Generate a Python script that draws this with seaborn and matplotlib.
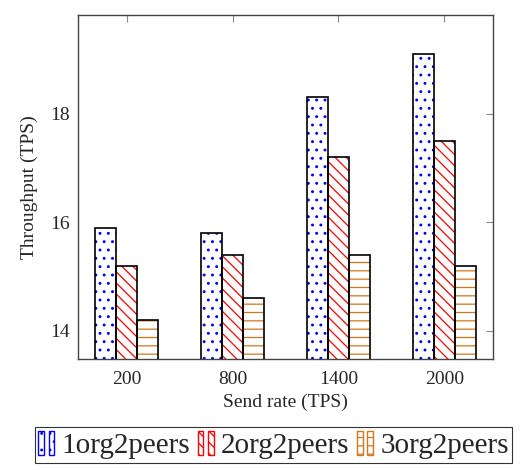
import matplotlib
matplotlib.use("Agg")
import matplotlib.pyplot as plt
import seaborn as sns
import pandas as pd
from matplotlib.patches import Rectangle, Patch
from matplotlib.legend_handler import HandlerTuple

categories = ["200", "800", "1400", "2000"]
series_names = ["1org2peers", "2org2peers", "3org2peers"]
s1 = [15.9, 15.8, 18.3, 19.1]
s2 = [15.2, 15.4, 17.2, 17.5]
s3 = [14.2, 14.6, 15.4, 15.2]
yticks = [14, 16, 18]

hatch_colors = ["blue", "red", "#d2771e"]
hatches = ["..", "\\\\\\", "--"]

sns.set_theme(style="white")
plt.rcParams["font.family"] = ["Liberation Serif", "DejaVu Serif"]
plt.rcParams["hatch.linewidth"] = 0.9

rows = []
for name, vals in zip(series_names, [s1, s2, s3]):
    for c, v in zip(categories, vals):
        rows.append({"rate": c, "series": name, "tps": v})
df = pd.DataFrame(rows)

fig = plt.figure(figsize=(5.29, 4.70), dpi=100)
ax = fig.add_axes([78 / 529, 1 - 359 / 470, (493 - 78) / 529, (359 - 15) / 470])

sns.barplot(data=df, x="rate", y="tps", hue="series", order=categories,
            hue_order=series_names, width=0.6, palette=["white"] * 3,
            edgecolor="black", linewidth=1.2, ax=ax, legend=False, zorder=3)

for i, cont in enumerate(ax.containers):
    for p in cont.patches:
        r = Rectangle(p.get_xy(), p.get_width(), p.get_height(), facecolor="none",
                      edgecolor=hatch_colors[i], hatch=hatches[i], linewidth=0, zorder=2.5)
        ax.add_patch(r)
        p.set_facecolor("none")

ax.set_ylim(13.48, 19.82)
ax.set_xlim(-0.46, 3.46)
ax.set_yticks(yticks)
ax.set_yticklabels([str(t) for t in yticks])
ax.set_xlabel("Send rate (TPS)", fontsize=14, labelpad=4)
ax.set_ylabel("Throughput (TPS)", fontsize=14, labelpad=9)
ax.tick_params(axis="both", labelsize=14, direction="in", length=5, color="#888888",
               top=True, right=True, width=0.8)
ax.tick_params(axis="x", pad=9)
ax.tick_params(axis="y", pad=6)
for s in ax.spines.values():
    s.set_color("#444444")
    s.set_linewidth(1.0)
    s.set_visible(True)

handles = [(Patch(facecolor="white", edgecolor=hatch_colors[i], hatch=hatches[i], linewidth=1.0),
            Patch(facecolor="white", edgecolor=hatch_colors[i], hatch=hatches[i], linewidth=1.0))
           for i in range(3)]
leg = fig.legend(handles, series_names, loc="center", bbox_to_anchor=(273.5 / 529, 1 - 445 / 470),
                 ncol=3, fontsize=21, frameon=True, fancybox=False, edgecolor="black",
                 handler_map={tuple: HandlerTuple(ndivide=None, pad=0.15)},
                 handlelength=0.55, handleheight=0.9, handletextpad=0.25, columnspacing=0.25,
                 borderpad=0.12, borderaxespad=0)
leg.get_frame().set_linewidth(0.8)

fig.savefig("out.png", dpi=100)
